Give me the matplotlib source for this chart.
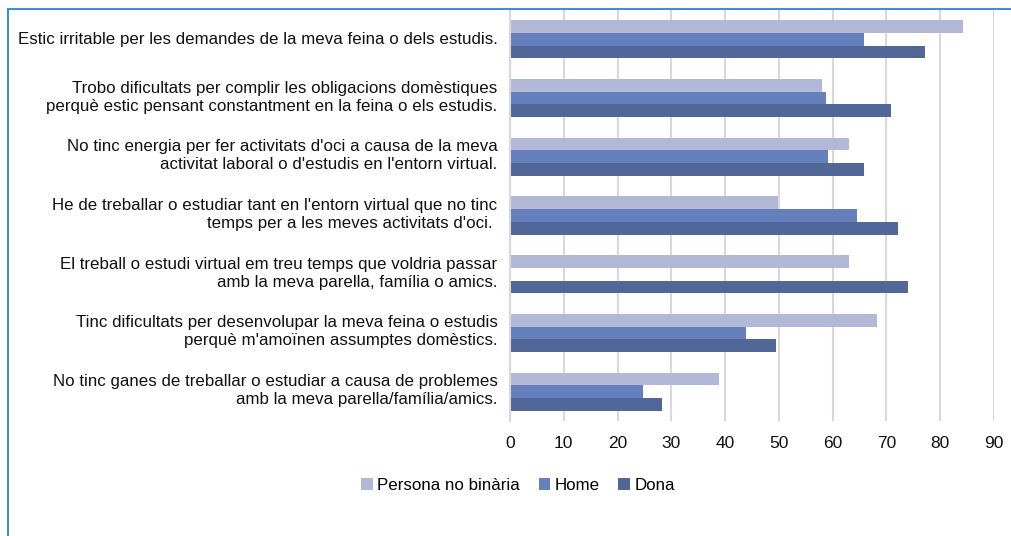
import numpy as np
import matplotlib
matplotlib.use("Agg")
import matplotlib.pyplot as plt
import matplotlib.transforms as mtransforms
from matplotlib.lines import Line2D

plt.rcParams['font.family'] = ['Liberation Sans', 'DejaVu Sans']

labels = [
  "Estic irritable per les demandes de la meva feina o dels estudis.",
  "Trobo dificultats per complir les obligacions domèstiques\nperquè estic pensant constantment en la feina o els estudis.",
  "No tinc energia per fer activitats d'oci a causa de la meva\nactivitat laboral o d'estudis en l'entorn virtual.",
  "He de treballar o estudiar tant en l'entorn virtual que no tinc\ntemps per a les meves activitats d'oci. ",
  "El treball o estudi virtual em treu temps que voldria passar\namb la meva parella, família o amics.",
  "Tinc dificultats per desenvolupar la meva feina o estudis\nperquè m'amoïnen assumptes domèstics.",
  "No tinc ganes de treballar o estudiar a causa de problemes\namb la meva parella/família/amics.",
]
no_binaria = [84.3, 58.0, 63.1, 49.8, 63.1, 68.2, 38.8]
home = [65.8, 58.7, 59.1, 64.6, 0, 43.9, 24.7]
dona = [77.2, 70.9, 65.8, 72.1, 74.0, 49.4, 28.2]
series_names = ["Persona no binària", "Home", "Dona"]
colors = ["#b1b9d6", "#6580bc", "#506797"]

W, H = 1012, 536
fig = plt.figure(figsize=(W / 100, H / 100), dpi=100)
ax = fig.add_axes([510 / W, 1 - 421 / H, (994 - 510) / W, (421 - 10) / H])

n = len(labels)
pos = np.arange(n)
bh = 0.216
for i, (vals, c) in enumerate(zip([no_binaria, home, dona], colors)):
  ax.barh(pos + (i - 1) * bh, vals, height=bh, color=c, label=series_names[i], zorder=3)

ax.set_ylim(n - 0.5, -0.5)
ax.set_xlim(0, 90)
ax.set_xticks(range(0, 91, 10))
ax.set_yticks(pos)
ax.set_yticklabels(labels, fontsize=12.2, color="#111111", linespacing=1.25)
ax.tick_params(axis='y', length=0, pad=9)
ax.tick_params(axis='x', length=0, pad=11, labelsize=12.5, labelcolor="#111111")
ax.grid(axis='x', color="#d9d9d9", linewidth=1.5, zorder=0)
for s in ['top', 'right', 'bottom']:
  ax.spines[s].set_visible(False)
ax.spines['left'].set_color("#d9d9d9")
ax.spines['left'].set_linewidth(1.5)
ax.spines['left'].set_zorder(4)

# the category labels sit a little above the bar groups
for lbl in ax.get_yticklabels():
  dy = 4 if "\n" in lbl.get_text() else 1
  lbl.set_transform(lbl.get_transform() + mtransforms.ScaledTranslation(0, dy / 100, fig.dpi_scale_trans))

leg = fig.legend(loc='center', bbox_to_anchor=(518 / W, 1 - 485 / H), ncol=3,
                 frameon=False, fontsize=12.2, handlelength=0.7, handleheight=0.7,
                 handletextpad=0.25, columnspacing=1.1)

# blue frame lines on the top and left edge
fig.add_artist(Line2D([8 / W, 8 / W], [0, 1 - 9 / H], color="#3f8fd8", linewidth=1.5))
fig.add_artist(Line2D([8 / W, 1], [1 - 9 / H, 1 - 9 / H], color="#3f8fd8", linewidth=1.5))

fig.savefig("out.png", dpi=100)
